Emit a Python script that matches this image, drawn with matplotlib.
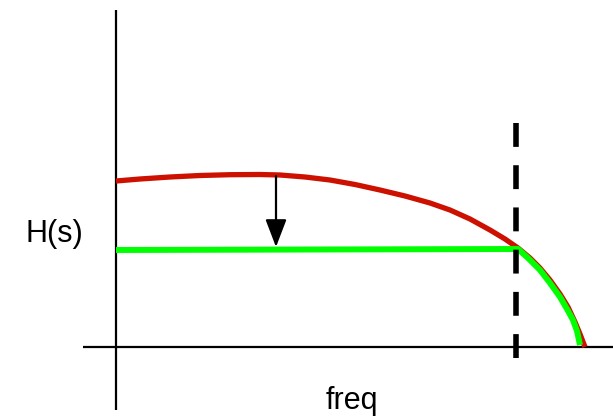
import numpy as np
import matplotlib
matplotlib.use("Agg")
import matplotlib.pyplot as plt

plt.rcParams['font.family'] = ['Liberation Sans', 'DejaVu Sans']

# curve points (pixel space, y down)
red_x = [116, 140, 170, 200, 230, 260, 280, 305, 330, 355, 380, 405, 430,
         450, 470, 490, 505, 518, 530, 540, 550, 560, 568, 575, 580, 585]
red_y = [181, 179, 177, 175.5, 174.7, 174.5, 175, 177, 180, 184.5, 190, 196, 203,
         210, 219, 230, 239, 248, 258, 268, 280, 294, 307, 322, 334, 347]
green_x = [116, 518, 528, 540, 550, 560, 567, 573, 577, 580]
green_y = [250, 249, 258, 270, 283, 297, 309, 320, 331, 345]

cutoff_x = 516
arrow_x = 276
arrow_top, arrow_bottom = 176, 247

fig = plt.figure(figsize=(6.13, 4.17), dpi=100)
ax = fig.add_axes([0, 0, 1, 1])
ax.set_xlim(0, 613)
ax.set_ylim(417, 0)
ax.axis('off')

# hand drawn axes
ax.plot([116, 116], [10, 410], color='black', lw=1.6, solid_capstyle='butt')
ax.plot([83, 613], [347, 347], color='black', lw=1.6, solid_capstyle='butt')

ax.plot(red_x, red_y, color='#cc1100', lw=3.8, solid_joinstyle='round',
        solid_capstyle='butt', zorder=3)
ax.plot(green_x, green_y, color='#00ff00', lw=4.3, solid_joinstyle='round',
        solid_capstyle='butt', zorder=4)

ax.plot([cutoff_x, cutoff_x], [123, 360], color='black', lw=4,
        linestyle=(0, (4.3, 3.3)), zorder=5)

ax.annotate('', xy=(arrow_x, arrow_bottom), xytext=(arrow_x, arrow_top),
            arrowprops=dict(arrowstyle='-|>,head_length=1.7,head_width=0.65',
                            color='black', lw=1.6, shrinkA=0, shrinkB=0),
            zorder=6)

ax.text(54, 234, 'H(s)', fontsize=22, ha='center', va='center')
ax.text(352, 401, 'freq', fontsize=22, ha='center', va='center')

fig.savefig('out.png', dpi=100)
